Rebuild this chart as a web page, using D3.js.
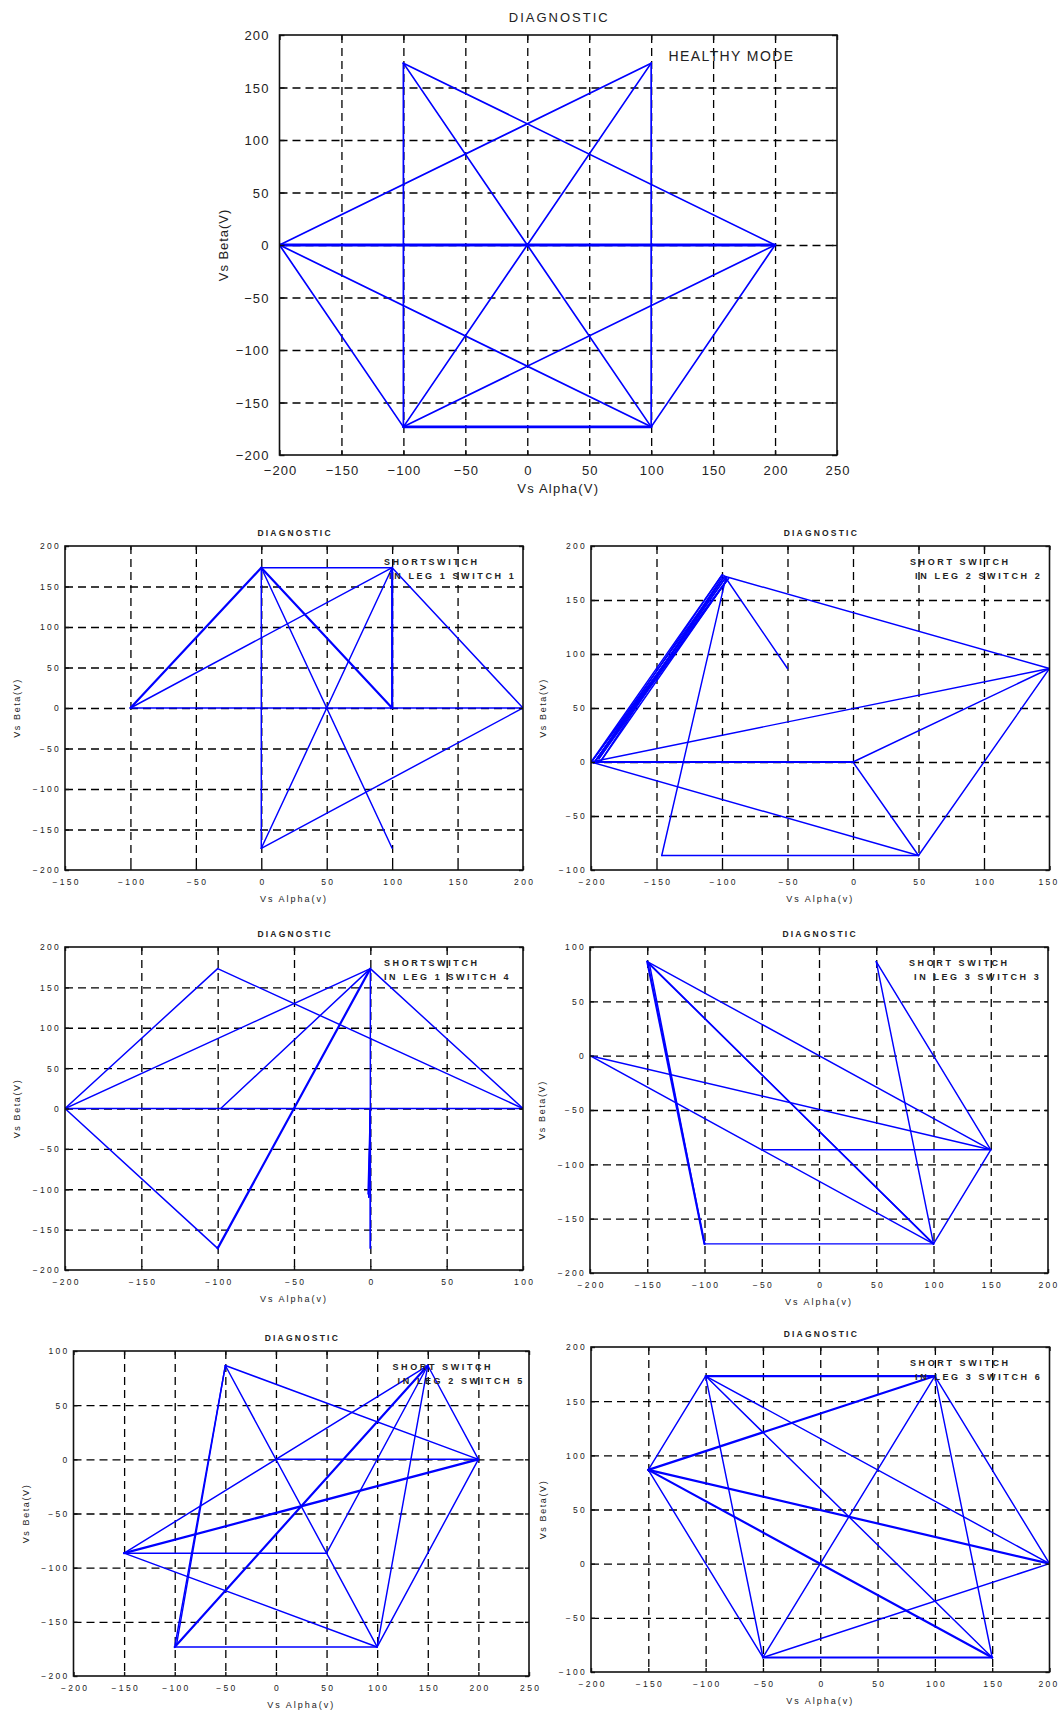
<!DOCTYPE html>
<html>
<head>
<meta charset="utf-8">
<script src="https://cdn.jsdelivr.net/npm/d3@7"></script>
<style>
  body { margin: 0; background: #fff; }
  svg { display: block; }
  text { font-family: "Liberation Sans", Arial, sans-serif; fill: #222; }
</style>
</head>
<body>
<svg id="fig" width="1059" height="1711"></svg>
<script>
// Space-vector trajectories (Vs alpha, Vs beta in volts). null lifts the pen.

// Healthy inverter
const healthyAlpha = [-200, 200, -200, 100, -100, 200, -100, -100, 100, -100, -200, 100, -100, null, 100, 100, 200];
const healthyBeta  = [0, 0, 0, 173.2, -173.2, 0, 173.2, -173.2, -173.2, -173.2, 0, -173.2, 173.2, null, 173.2, -173.2, 0];

// Short switch in leg 1, switch 1
const leg1sw1Alpha = [100, 0, 100, 200, 0, 0, -100, 100, 100, 0, 100, 100, 0, null, -100, 0, null, -100, 200];
const leg1sw1Beta  = [-173.2, 173.2, 173.2, 0, -173.2, 173.2, 0, 173.2, 0, 173.2, 0, 173.2, -173.2, null, 0, 173.2, null, 0, 0];

// Short switch in leg 2, switch 2
const leg2sw2Alpha = [-50, -98, 150, -200, 0, -200, 0, 150, 50, -146, -97, null,
  -200, -100, -196, -97, -198, -95, -194, -98, -199, -96, -193, -99, null, -200, 50, 0];
const leg2sw2Beta  = [86.6, 172, 86.6, 0, 0, 0, 0, 86.6, -86.6, -86.6, 171, null,
  0, 173.2, 2, 171, -1, 170, 3, 172, 1, 169, 0, 173, null, 0, -86.6, 0];

// Short switch in leg 1, switch 4
const leg1sw4Alpha = [-98, 0, -200, -100, 100, 0, -100, 0, -100, -200, 100, null, 0, 0, 0, -1, 0, -1.5];
const leg1sw4Beta  = [0, 173.2, 0, 173.2, 0, 173.2, -173.2, 173.2, -173.2, 0, 0, null, 173.2, -173.2, 0, -110, -2, -106];

// Short switch in leg 3, switch 3
const leg3sw3Alpha = [-50, 150, 50, 100, 150, -150, 100, -148, -100, -150, -100, 100, -50, -200, 150];
const leg3sw3Beta  = [-86.6, -86.6, 86.6, -173.2, -86.6, 86.6, -173.2, 84, -173.2, 86.6, -173.2, -173.2, -86.6, 0, -86.6];

// Short switch in leg 2, switch 5
const leg2sw5Alpha = [-98, -50, -100, 150, -150, 200, -150, 50, 150, 200, 100, 150, null, 150, -100, 100, -150, null, 0, 200, -50, 100];
const leg2sw5Beta  = [-170, 86.6, -173.2, 86.6, -86.6, 0, -86.6, -86.6, 86.6, 0, -173.2, 86.6, null, 86.6, -173.2, -173.2, -86.6, null, 0, 0, 86.6, -173.2];

// Short switch in leg 3, switch 6
const leg3sw6Alpha = [100, -100, 100, 200, -150, 200, -100, -150, 150, -50, 150, 100, -50, 200, null, -100, -50, -150, 100, -150, 150, null, -100, 150];
const leg3sw6Beta  = [173.2, 173.2, 173.2, 0, 86.6, 0, 173.2, 86.6, -86.6, -86.6, -86.6, 173.2, -86.6, 0, null, 173.2, -86.6, 86.6, 173.2, 86.6, -86.6, null, 173.2, -86.6];

// Tick labels
const ticksM200to250 = [-200, -150, -100, -50, 0, 50, 100, 150, 200, 250];
const ticksM200to200 = [-200, -150, -100, -50, 0, 50, 100, 150, 200];
const ticksM150to200 = [-150, -100, -50, 0, 50, 100, 150, 200];
const ticksM200to150 = [-200, -150, -100, -50, 0, 50, 100, 150];
const ticksM200to100 = [-200, -150, -100, -50, 0, 50, 100];
const ticksM100to200 = [-100, -50, 0, 50, 100, 150, 200];

const titleText = "DIAGNOSTIC";
const xLabelBig = "Vs Alpha(V)", yLabelBig = "Vs  Beta(V)";
const xLabelSmall = "Vs Alpha(v)", yLabelSmall = "Vs Beta(V)";

const figWidth = 1059;

// Styles
const bigStyle = {
  font: 13, spacing: 1.1, titleFont: 13, titleSpacing: 2, titleWeight: "normal", titleGap: 13,
  xLabelGap: 20, yLabelGap: 10, axisLabelX: 38, axisLabelY: 52, axisFont: 13, axisSpacing: 1.2,
  tick: 5, lw: 1.7, heavy: 2.9, grid: 1.3, dash: "8,5", border: 1.6,
  note: { font: 14, spacing: 1.4, weight: "normal", dx: 389, dy: 26, lh: 14 }
};
const smallStyle = {
  font: 8.5, spacing: 2.3, titleFont: 8.5, titleSpacing: 2.2, titleWeight: "bold", titleGap: 10,
  xLabelGap: 15, yLabelGap: 4, axisLabelX: 32, axisLabelY: 45, axisFont: 9, axisSpacing: 2,
  tick: 4, lw: 1.45, heavy: 2.2, grid: 1.3, dash: "8,5", border: 1.6,
  note: { font: 9, spacing: 2.6, weight: "bold", dx: 319, dy: 19, lh: 14 }
};

const panels = [
  { alpha: healthyAlpha, beta: healthyBeta, xTicks: ticksM200to250, yTicks: ticksM200to200,
    box: [279.5, 35, 557.5, 420], style: bigStyle, xLab: xLabelBig, yLab: yLabelBig,
    note: ["HEALTHY MODE"] },
  { alpha: leg1sw1Alpha, beta: leg1sw1Beta, xTicks: ticksM150to200, yTicks: ticksM200to200,
    box: [65, 546, 458, 324], style: smallStyle, xLab: xLabelSmall, yLab: yLabelSmall,
    note: ["SHORTSWITCH", " IN LEG 1 SWITCH 1"] },
  { alpha: leg2sw2Alpha, beta: leg2sw2Beta, xTicks: ticksM200to150, yTicks: ticksM100to200,
    box: [591, 546, 458.5, 324], style: smallStyle, xLab: xLabelSmall, yLab: yLabelSmall,
    note: ["SHORT SWITCH", " IN LEG 2 SWITCH 2"] },
  { alpha: leg1sw4Alpha, beta: leg1sw4Beta, xTicks: ticksM200to100, yTicks: ticksM200to200,
    box: [65, 947, 458, 323], style: smallStyle, xLab: xLabelSmall, yLab: yLabelSmall,
    note: ["SHORTSWITCH", "IN LEG 1 SWITCH 4"] },
  { alpha: leg3sw3Alpha, beta: leg3sw3Beta, xTicks: ticksM200to200, yTicks: ticksM200to100,
    box: [590, 947, 458, 326], style: smallStyle, xLab: xLabelSmall, yLab: yLabelSmall,
    note: ["SHORT SWITCH", " IN LEG 3 SWITCH 3"] },
  { alpha: leg2sw5Alpha, beta: leg2sw5Beta, xTicks: ticksM200to250, yTicks: ticksM200to100,
    box: [73.5, 1351, 455.5, 325], style: smallStyle, xLab: xLabelSmall, yLab: yLabelSmall,
    note: ["SHORT SWITCH", " IN LEG 2 SWITCH 5"] },
  { alpha: leg3sw6Alpha, beta: leg3sw6Beta, xTicks: ticksM200to200, yTicks: ticksM100to200,
    box: [591, 1347, 458.5, 325], style: smallStyle, xLab: xLabelSmall, yLab: yLabelSmall,
    note: ["SHORT SWITCH", " IN LEG 3 SWITCH 6"] }
];

const svg = d3.select("#fig");

panels.forEach((p, idx) => drawPanel(p, idx));

function drawPanel(p, idx) {
  const [bx, by, bw, bh] = p.box;
  const st = p.style;
  const g = svg.append("g").attr("transform", `translate(${bx},${by})`);

  const x = d3.scaleLinear().domain(d3.extent(p.xTicks)).range([0, bw]);
  const y = d3.scaleLinear().domain(d3.extent(p.yTicks)).range([bh, 0]);

  // dashed grid at the interior ticks
  const gx = g.append("g").call(d3.axisBottom(x).tickValues(p.xTicks.slice(1, -1)).tickSize(bh).tickFormat(""));
  const gy = g.append("g").call(d3.axisLeft(y).tickValues(p.yTicks.slice(1, -1)).tickSize(-bw).tickFormat(""));
  [gx, gy].forEach(a => {
    a.select(".domain").remove();
    a.selectAll(".tick line").attr("stroke", "#000").attr("stroke-width", st.grid)
      .attr("stroke-dasharray", st.dash);
  });

  // trajectory: split into segments, heavier where a segment is retraced
  const pts = p.alpha.map((a, i) => (a == null || p.beta[i] == null) ? null : [a, p.beta[i]]);
  const segs = [];
  for (let i = 1; i < pts.length; i++) {
    if (pts[i - 1] && pts[i]) segs.push([pts[i - 1], pts[i]]);
  }
  const key = s => {
    const a = s[0].join(","), b = s[1].join(",");
    return a < b ? a + "|" + b : b + "|" + a;
  };
  const counts = d3.rollup(segs, v => v.length, key);
  const uniq = Array.from(d3.group(segs, key).values(), v => v[0]);

  const clipId = "clip" + idx;
  g.append("clipPath").attr("id", clipId).append("rect").attr("width", bw).attr("height", bh);
  const line = d3.line().x(d => x(d[0])).y(d => y(d[1]));
  g.append("g").attr("clip-path", `url(#${clipId})`)
    .selectAll("path").data(uniq).join("path")
    .attr("d", line)
    .attr("fill", "none")
    .attr("stroke", "#0000ff")
    .attr("stroke-linecap", "round")
    .attr("stroke-linejoin", "round")
    .attr("stroke-width", d => counts.get(key(d)) > 1 ? st.heavy : st.lw);

  // frame
  g.append("rect").attr("width", bw).attr("height", bh)
    .attr("fill", "none").attr("stroke", "#111").attr("stroke-width", st.border);

  // axes with inward ticks on all four sides
  const bottom = g.append("g").attr("transform", `translate(0,${bh})`)
    .call(d3.axisBottom(x).tickValues(p.xTicks).tickSize(-st.tick).tickSizeOuter(0));
  const left = g.append("g")
    .call(d3.axisLeft(y).tickValues(p.yTicks).tickSize(-st.tick).tickSizeOuter(0));
  const top = g.append("g")
    .call(d3.axisTop(x).tickValues(p.xTicks).tickSize(-st.tick).tickSizeOuter(0).tickFormat(""));
  const right = g.append("g").attr("transform", `translate(${bw},0)`)
    .call(d3.axisRight(y).tickValues(p.yTicks).tickSize(-st.tick).tickSizeOuter(0).tickFormat(""));
  [bottom, left, top, right].forEach(a => {
    a.select(".domain").remove();
    a.selectAll(".tick line").attr("stroke", "#111").attr("stroke-width", 1.4);
    a.attr("font-family", null).attr("font-size", null);
  });

  bottom.selectAll(".tick text")
    .attr("y", st.xLabelGap).attr("dy", null)
    .attr("text-anchor", "middle")
    .style("font-size", st.font + "px")
    .style("letter-spacing", st.spacing + "px")
    .attr("dx", st.spacing / 2)
    .attr("fill", "#222")
    .each(function (d) {
      // keep the outermost label inside the figure
      const w = this.getComputedTextLength();
      const rightEdge = bx + x(d) + w / 2;
      if (rightEdge > figWidth - 1) {
        d3.select(this).attr("dx", st.spacing / 2 - (rightEdge - figWidth + 1));
      }
    });
  left.selectAll(".tick text")
    .attr("x", -st.yLabelGap).attr("dy", "0.35em")
    .attr("text-anchor", "end")
    .style("font-size", st.font + "px")
    .style("letter-spacing", st.spacing + "px")
    .attr("fill", "#222");

  // title
  g.append("text")
    .attr("x", bw / 2 + st.titleSpacing / 2).attr("y", -st.titleGap)
    .attr("text-anchor", "middle")
    .style("font-size", st.titleFont + "px")
    .style("letter-spacing", st.titleSpacing + "px")
    .style("font-weight", st.titleWeight)
    .text(titleText);

  // axis labels
  g.append("text")
    .attr("x", bw / 2).attr("y", bh + st.axisLabelX)
    .attr("text-anchor", "middle")
    .style("font-size", st.axisFont + "px")
    .style("letter-spacing", st.axisSpacing + "px")
    .text(p.xLab);
  g.append("text")
    .attr("transform", `translate(${-st.axisLabelY},${bh / 2}) rotate(-90)`)
    .attr("text-anchor", "middle")
    .style("font-size", st.axisFont + "px")
    .style("letter-spacing", (st.axisSpacing * 0.8) + "px")
    .text(p.yLab);

  // annotation
  const n = st.note;
  p.note.forEach((t, i) => {
    g.append("text")
      .attr("x", n.dx).attr("y", n.dy + i * n.lh)
      .attr("xml:space", "preserve")
      .style("white-space", "pre")
      .style("font-size", n.font + "px")
      .style("letter-spacing", n.spacing + "px")
      .style("font-weight", n.weight)
      .attr("fill", "#3a3530")
      .text(t);
  });
}
</script>
</body>
</html>
